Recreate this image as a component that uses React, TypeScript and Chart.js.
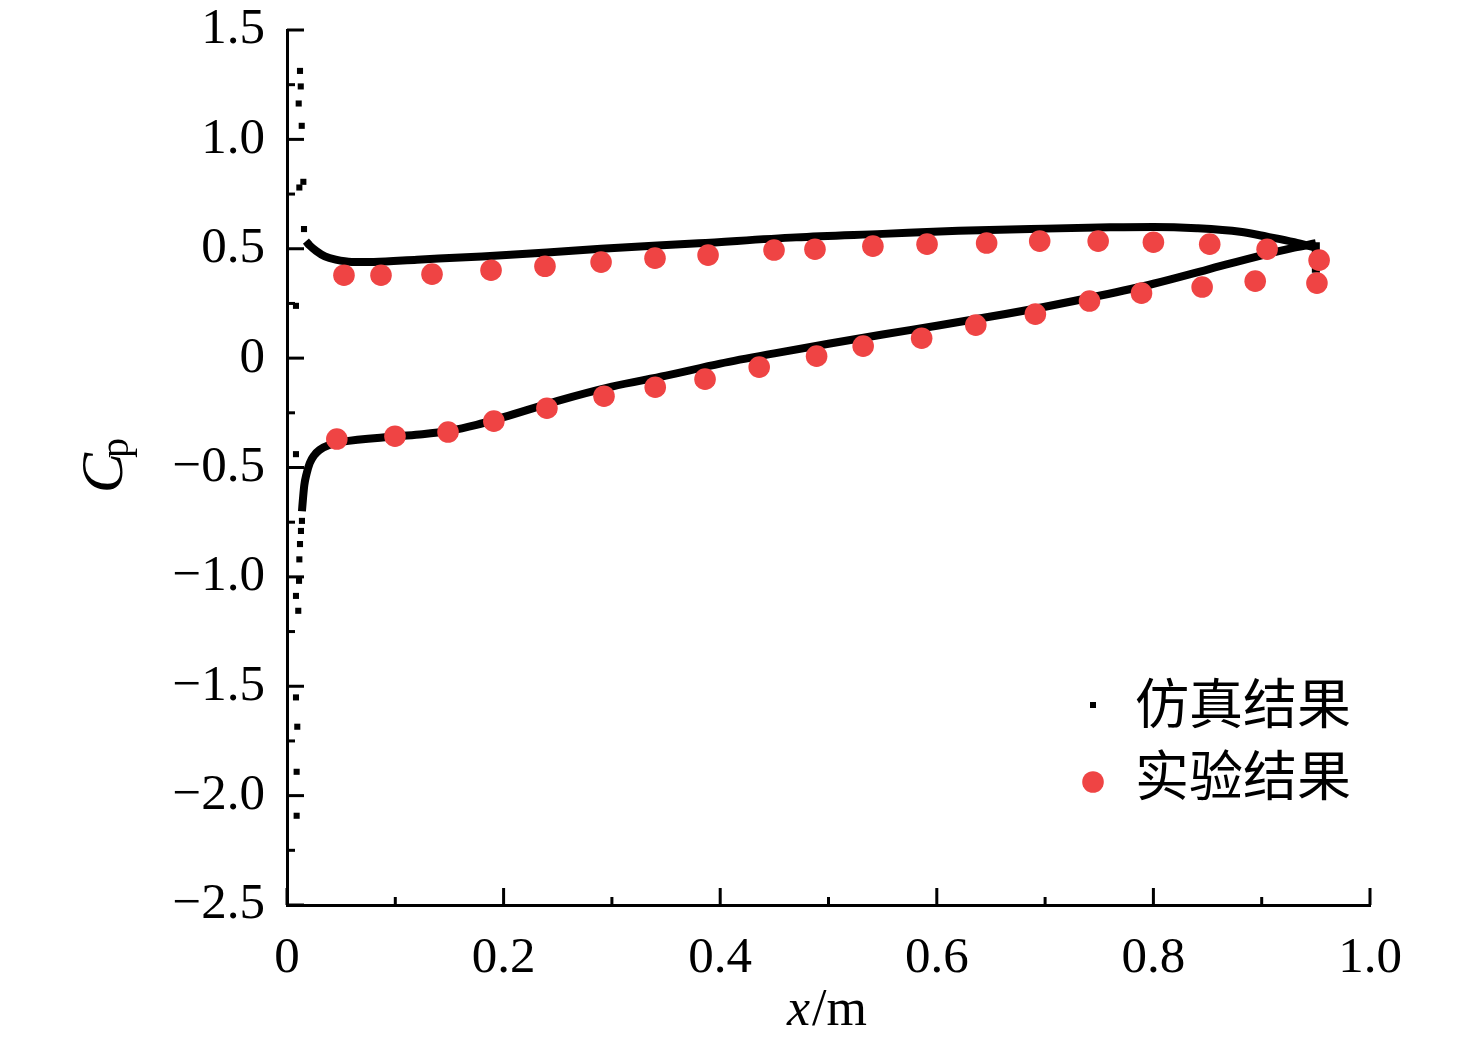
import { useEffect, useRef } from "react";
import { Chart, registerables } from "chart.js";
Chart.register(...registerables);

// simulation, dense part of the upper and lower surface (drawn as a thick line)
const simUpperX = [0.0175, 0.021, 0.027, 0.035, 0.045, 0.06, 0.08, 0.12, 0.18, 0.24, 0.29, 0.38, 0.47, 0.55, 0.62, 0.7, 0.76, 0.8, 0.84, 0.88, 0.905, 0.93, 0.95];
const simUpperY = [0.535, 0.515, 0.49, 0.465, 0.45, 0.44, 0.44, 0.45, 0.465, 0.483, 0.5, 0.525, 0.552, 0.568, 0.582, 0.592, 0.598, 0.6, 0.594, 0.578, 0.555, 0.53, 0.505];
const simLowerX = [0.0138, 0.0148, 0.016, 0.018, 0.021, 0.025, 0.03, 0.04, 0.05, 0.1, 0.125, 0.15, 0.175, 0.2, 0.25, 0.3, 0.35, 0.4, 0.45, 0.5, 0.55, 0.6, 0.65, 0.7, 0.75, 0.8, 0.85, 0.9, 0.93, 0.95];
const simLowerY = [-0.7, -0.64, -0.58, -0.53, -0.48, -0.445, -0.42, -0.395, -0.383, -0.358, -0.348, -0.332, -0.305, -0.27, -0.195, -0.13, -0.08, -0.025, 0.022, 0.066, 0.108, 0.148, 0.19, 0.235, 0.285, 0.34, 0.405, 0.47, 0.505, 0.525];
const simTrailX = [0.95, 0.95];
const simTrailY = [0.53, 0.39];
// simulation, sparse points near the leading edge
const simDotX = [0.012, 0.0127, 0.0108, 0.0136, 0.0151, 0.0114, 0.0157, 0.0083, 0.0083, 0.0138, 0.0129, 0.012, 0.0114, 0.0111, 0.0083, 0.0104, 0.0083, 0.0095, 0.0089, 0.0089];
const simDotY = [1.313, 1.242, 1.164, 1.062, 0.806, 0.78, 0.59, 0.239, -0.439, -0.744, -0.79, -0.85, -0.92, -1.018, -1.087, -1.155, -1.551, -1.685, -1.891, -2.092];
// experiment
const expUpperX = [0.0526, 0.0868, 0.1339, 0.1884, 0.2382, 0.29, 0.3398, 0.3888, 0.4497, 0.4875, 0.541, 0.591, 0.646, 0.695, 0.749, 0.8, 0.852, 0.905, 0.953];
const expUpperY = [0.379, 0.379, 0.384, 0.402, 0.42, 0.439, 0.457, 0.471, 0.494, 0.498, 0.512, 0.521, 0.526, 0.535, 0.535, 0.53, 0.521, 0.498, 0.448];
const expLowerX = [0.046, 0.0997, 0.1487, 0.191, 0.24, 0.2927, 0.34, 0.386, 0.436, 0.489, 0.532, 0.586, 0.636, 0.691, 0.741, 0.789, 0.845, 0.894, 0.951];
const expLowerY = [-0.37, -0.357, -0.338, -0.288, -0.229, -0.174, -0.133, -0.096, -0.041, 0.009, 0.055, 0.091, 0.151, 0.201, 0.261, 0.297, 0.325, 0.352, 0.343];

const legendLabels = ["仿真结果", "实验结果"];
const RED = "#ef4444";
const SERIF = "'Liberation Serif', 'Times New Roman', serif";

const pts = (xs: number[], ys: number[]) => xs.map((x, i) => ({ x, y: ys[i] }));

const fmt = (v: number) => {
  const r = Math.round(v * 10) / 10;
  if (r === 0) return "0";
  return r.toFixed(1).replace("-", "\u2212");
};

const extras = {
  id: "extras",
  afterDraw(chart: any) {
    const { ctx, chartArea: a, scales } = chart;
    ctx.save();
    ctx.strokeStyle = "#000";
    ctx.lineWidth = 3;
    // inward tick marks
    scales.y.ticks.forEach((t: any, i: number) => {
      const p = scales.y.getPixelForTick(i);
      const major = Math.abs(t.value * 2 - Math.round(t.value * 2)) < 1e-6;
      ctx.beginPath();
      ctx.moveTo(a.left, p);
      ctx.lineTo(a.left + (major ? 17 : 8), p);
      ctx.stroke();
    });
    scales.x.ticks.forEach((t: any, i: number) => {
      const p = scales.x.getPixelForTick(i);
      const major = Math.abs(t.value * 5 - Math.round(t.value * 5)) < 1e-6;
      ctx.beginPath();
      ctx.moveTo(p, a.bottom);
      ctx.lineTo(p, a.bottom - (major ? 17 : 8));
      ctx.stroke();
    });
    // axis titles
    ctx.fillStyle = "#000";
    ctx.textBaseline = "alphabetic";
    ctx.textAlign = "left";
    ctx.save();
    ctx.rotate(-Math.PI / 2);
    ctx.font = `italic 60px ${SERIF}`;
    ctx.fillText("C", -493, 122);
    ctx.font = `40px ${SERIF}`;
    ctx.fillText("p", -458, 128);
    ctx.restore();
    ctx.font = `italic 52px ${SERIF}`;
    ctx.fillText("x", 787, 1025);
    const w = ctx.measureText("x").width;
    ctx.font = `52px ${SERIF}`;
    ctx.fillText("/m", 787 + w + 2, 1025);
    // legend
    const lx = a.left + 806;
    const ly = a.top + 675;
    ctx.fillRect(lx - 3, ly - 3, 6, 6);
    ctx.fillStyle = RED;
    ctx.beginPath();
    ctx.arc(lx, ly + 77, 10.8, 0, Math.PI * 2);
    ctx.fill();
    ctx.fillStyle = "#000";
    ctx.font = "54px 'Noto Sans CJK SC'";
    ctx.textBaseline = "middle";
    ctx.fillText(legendLabels[0], lx + 42, ly - 2);
    ctx.fillText(legendLabels[1], lx + 42, ly + 70);
    ctx.restore();
  },
};

export default function App() {
  const ref = useRef<HTMLCanvasElement>(null);
  const inst = useRef<Chart | null>(null);

  useEffect(() => {
    if (!ref.current) return;
    inst.current?.destroy();
    const lineDs = (data: any[]) => ({
      data,
      showLine: true,
      borderColor: "#000",
      borderWidth: 8,
      pointRadius: 0,
      cubicInterpolationMode: "monotone" as const,
      order: 2,
    });
    inst.current = new Chart(ref.current, {
      type: "scatter",
      data: {
        datasets: [
          { label: legendLabels[1], data: [...pts(expUpperX, expUpperY), ...pts(expLowerX, expLowerY)], backgroundColor: RED, borderWidth: 0, pointRadius: 10.8, order: 0 },
          { label: legendLabels[0], data: pts(simDotX, simDotY), backgroundColor: "#000", borderWidth: 0, pointStyle: "rect", pointRadius: 4.3, order: 1 },
          lineDs(pts(simUpperX, simUpperY)),
          lineDs(pts(simLowerX, simLowerY)),
          { ...lineDs(pts(simTrailX, simTrailY)), cubicInterpolationMode: "default" as const, tension: 0 },
        ],
      },
      options: {
        animation: false,
        responsive: true,
        maintainAspectRatio: false,
        layout: { padding: { top: 30, right: 106, left: 0, bottom: 0 } },
        plugins: { legend: { display: false }, tooltip: { enabled: false } },
        scales: {
          x: {
            type: "linear", min: 0, max: 1,
            grid: { display: false, drawTicks: false },
            border: { display: true, color: "#000", width: 3 },
            ticks: {
              stepSize: 0.1, color: "#000", padding: 28, maxRotation: 0, autoSkip: false,
              font: { family: SERIF, size: 51, lineHeight: 1 },
              callback: (v: any) => (Math.abs(v * 5 - Math.round(v * 5)) < 1e-6 ? fmt(v) : ""),
            },
            afterFit: (s: any) => { s.height = 138; s.paddingLeft = 0; s.paddingRight = 0; },
          },
          y: {
            type: "linear", min: -2.5, max: 1.5,
            grid: { display: false, drawTicks: false },
            border: { display: true, color: "#000", width: 3 },
            ticks: {
              stepSize: 0.25, color: "#000", padding: 22, autoSkip: false,
              font: { family: SERIF, size: 51, lineHeight: 1 },
              callback: (v: any) => (Math.abs(v * 2 - Math.round(v * 2)) < 1e-6 ? fmt(v) : ""),
            },
            afterFit: (s: any) => { s.width = 287; s.paddingTop = 0; s.paddingBottom = 0; },
          },
        },
      },
      plugins: [extras],
    });
    return () => inst.current?.destroy();
  }, []);

  return (
    <div style={{ position: "fixed", left: 0, top: 0, width: 1476, height: 1043, background: "#fff" }}>
      <canvas ref={ref} />
    </div>
  );
}
